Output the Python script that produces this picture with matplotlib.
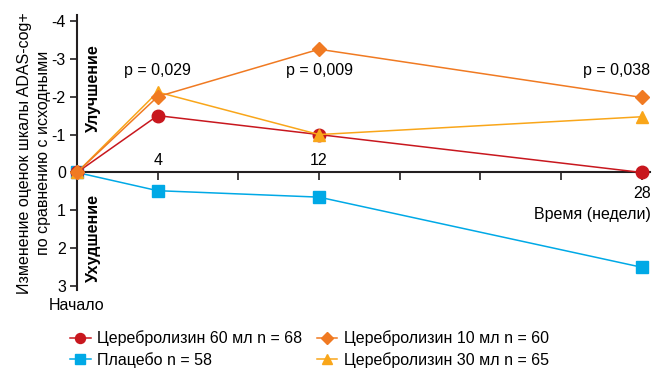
import matplotlib
matplotlib.use("Agg")
import matplotlib.pyplot as plt

plt.rcParams['font.family'] = ['Liberation Sans', 'DejaVu Sans']

# Данные
weeks = [0, 4, 12, 28]
cere60 = [0, -1.5, -1.0, 0.0]
cere10 = [0, -2.0, -3.25, -1.98]
cere30 = [0, -2.12, -1.0, -1.47]
placebo = [0, 0.48, 0.65, 2.5]
p_weeks = [4, 12, 28]
p_labels = ["p = 0,029", "p = 0,009", "p = 0,038"]

c_red = '#C8171E'
c_orange = '#F07A22'
c_yellow = '#F9A61A'
c_blue = '#00A9E6'
c_axis = '#231F20'

fig = plt.figure(figsize=(6.54, 3.69), dpi=100)
ax = fig.add_axes([0.1177, 0.214, 0.876, 0.745])

hb, = ax.plot(weeks, placebo, color=c_blue, lw=1.1, marker='s', ms=9,
              clip_on=False, zorder=3)
hr, = ax.plot(weeks, cere60, color=c_red, lw=1.1, marker='o', ms=9,
              clip_on=False, zorder=4)
hy, = ax.plot(weeks, cere30, color=c_yellow, lw=1.1, marker='^', ms=9,
              clip_on=False, zorder=5)
ho, = ax.plot(weeks, cere10, color=c_orange, lw=1.1, marker='D', ms=7.3,
              clip_on=False, zorder=6)

ax.set_xlim(0, 28.4)
ax.set_ylim(3.1, -4.15)

ax.spines['top'].set_visible(False)
ax.spines['right'].set_visible(False)
ax.spines['bottom'].set_position(('data', 0))
for s in ('left', 'bottom'):
    ax.spines[s].set_linewidth(1.5)
    ax.spines[s].set_color(c_axis)

ax.set_yticks([-4, -3, -2, -1, 0, 1, 2, 3])
ax.set_yticklabels(['-4', '-3', '-2', '-1', '0', '1', '2', '3'])
ax.tick_params(axis='y', direction='out', length=5, width=1.2,
               color=c_axis, labelsize=11.5, pad=3)
ax.set_xticks([4, 8, 12, 16, 20, 24, 28])
ax.tick_params(axis='x', direction='out', length=6, width=1.2,
               color=c_axis, labelbottom=False)

# подписи оси времени
ax.text(4, -0.12, '4', ha='center', va='bottom', fontsize=11.5)
ax.text(12, -0.12, '12', ha='center', va='bottom', fontsize=11.5)
ax.text(28, 0.36, '28', ha='center', va='top', fontsize=11.5)
ax.text(28.45, 1.1, 'Время (недели)', ha='right', va='center', fontsize=11.5)
ax.text(0, 3.3, 'Начало', ha='center', va='top', fontsize=11.5)

for w, lab in zip(p_weeks, p_labels):
    if w == 28:
        ax.text(28.4, -2.7, lab, ha='right', va='center', fontsize=11.5)
    else:
        ax.text(w, -2.7, lab, ha='center', va='center', fontsize=11.5)

ax.text(0.8, -2.22, 'Улучшение', rotation=90, ha='center', va='center',
        fontsize=11.5, fontweight='bold')
ax.text(0.8, 1.72, 'Ухудшение', rotation=90, ha='center', va='center',
        fontsize=11.5, fontweight='bold')

fig.text(0.052, 0.585, 'Изменение оценок шкалы ADAS-cog+\nпо сравнению с исходными',
         rotation=90, ha='center', va='center', fontsize=11.5, linespacing=1.3)

leg = fig.legend([hr, hb, ho, hy],
                 ['Церебролизин 60 мл n = 68', 'Плацебо n = 58',
                  'Церебролизин 10 мл n = 60', 'Церебролизин 30 мл n = 65'],
                 ncol=2, loc='lower left', bbox_to_anchor=(0.085, -0.035),
                 frameon=False, fontsize=11.5, handlelength=1.3,
                 handletextpad=0.4, columnspacing=0.9, labelspacing=0.35,
                 markerscale=0.8)

fig.savefig('out.png', dpi=100)
